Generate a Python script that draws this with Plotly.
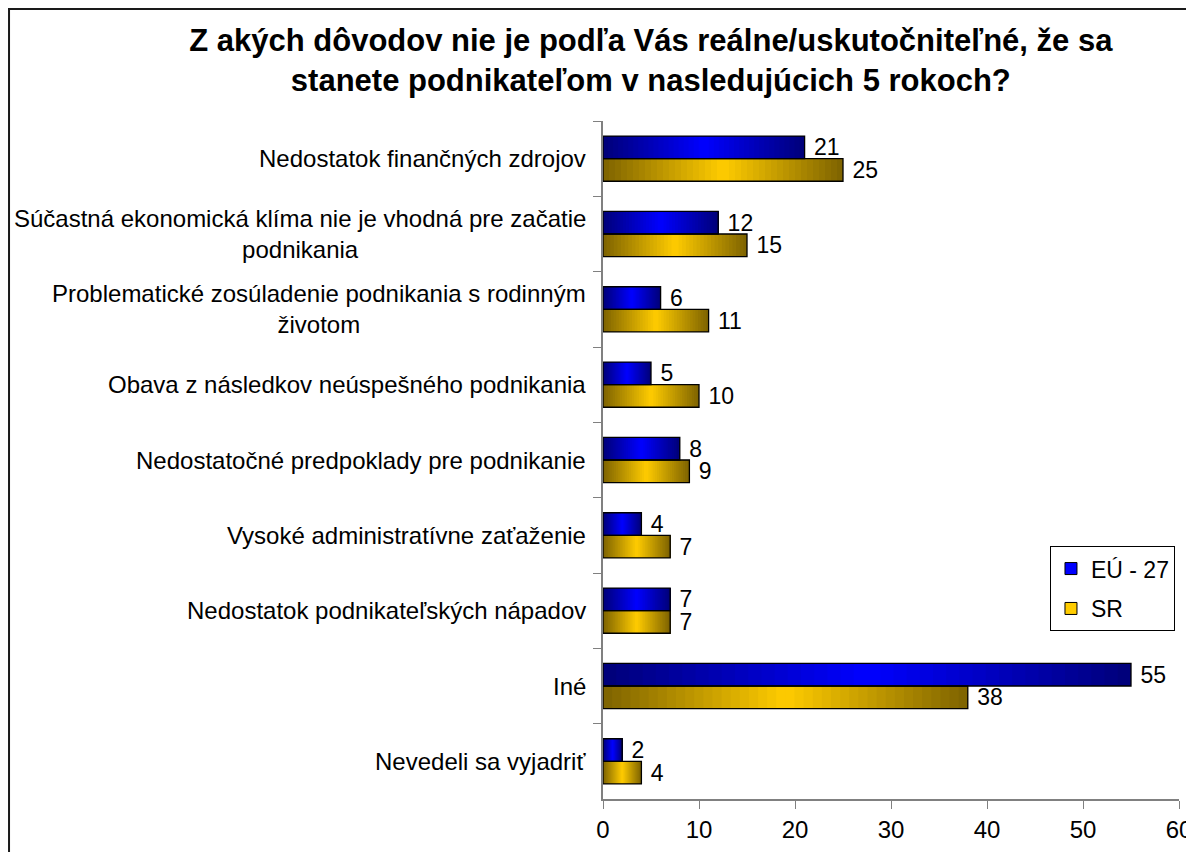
import numpy as np
import plotly.graph_objects as go

# ---------------- data ----------------
categories = [
    "Nedostatok finančných zdrojov",
    "Súčastná ekonomická klíma nie je vhodná pre začatie<br>podnikania",
    "Problematické zosúladenie podnikania s rodinným<br>životom",
    "Obava z následkov neúspešného podnikania",
    "Nedostatočné predpoklady pre podnikanie",
    "Vysoké administratívne zaťaženie",
    "Nedostatok podnikateľských nápadov",
    "Iné",
    "Nevedeli sa vyjadriť",
]
eu27 = [21, 12, 6, 5, 8, 4, 7, 55, 2]
sr = [25, 15, 11, 10, 9, 7, 7, 38, 4]
series_names = ["EÚ - 27", "SR"]
x_ticks = [0, 10, 20, 30, 40, 50, 60]
title_text = ("Z akých dôvodov nie je podľa Vás reálne/uskutočniteľné, že sa<br>"
              "stanete podnikateľom v nasledujúcich 5 rokoch?")

# ---------------- style ----------------
FONT = "Liberation Sans, Arial, sans-serif"
BLUE_EDGE, BLUE_CENTER = (0, 0, 120), (0, 0, 255)
GOLD_EDGE, GOLD_CENTER = (125, 98, 0), (255, 204, 0)
N_SEG = 40
BAR_W = 0.3


def grad_color(edge, center, t):
    w = 1 - abs(2 * t - 1)
    c = [round(e + (m - e) * w) for e, m in zip(edge, center)]
    return f"rgb({c[0]},{c[1]},{c[2]})"


fig = go.Figure()

series = [
    (eu27, series_names[0], BLUE_EDGE, BLUE_CENTER, -BAR_W),
    (sr, series_names[1], GOLD_EDGE, GOLD_CENTER, 0.0),
]

# gradient fill: each slice starts further right and runs to the bar end
for vals, name, edge, center, off in series:
    v = np.array(vals, dtype=float)
    for k in range(N_SEG):
        fig.add_trace(go.Bar(
            y=categories, x=v * (N_SEG - k) / N_SEG, base=v * k / N_SEG,
            orientation="h", offset=off, width=BAR_W,
            marker=dict(color=grad_color(edge, center, (k + 0.5) / N_SEG),
                        line=dict(width=0)),
            showlegend=False, hoverinfo="skip",
        ))

# outlines + value labels
for vals, name, edge, center, off in series:
    v = np.array(vals, dtype=float)
    fig.add_trace(go.Bar(
        y=categories, x=v, orientation="h", offset=off, width=BAR_W,
        marker=dict(color="rgba(0,0,0,0)", line=dict(color="black", width=1.3)),
        texttemplate="\u00a0%{x}", textposition="outside",
        textfont=dict(family=FONT, size=23, color="black"),
        cliponaxis=False, constraintext="none",
        showlegend=False, name=name,
    ))

# legend entries
for vals, name, edge, center, off in series:
    fig.add_trace(go.Bar(
        y=[None], x=[None], orientation="h", name=name, legendgroup=name,
        marker=dict(color=grad_color(edge, center, 0.5),
                    line=dict(color="black", width=1)),
        showlegend=True,
    ))

# category labels (centered multi-line)
annotations = []
for cat in categories:
    annotations.append(dict(
        x=0, xref="paper", y=cat, yref="y", text=cat, showarrow=False,
        xanchor="right", yanchor="middle", align="center", xshift=-15,
        font=dict(family=FONT, size=24, color="black"),
    ))

# outer chart frame
shapes = [dict(
    type="rect", xref="paper", yref="paper",
    x0=-1.0312, x1=1.2, y0=-0.3, y1=1.1652,
    line=dict(color="#1a1a1a", width=2), fillcolor="rgba(0,0,0,0)", layer="below",
)]

fig.update_layout(
    width=1186, height=844,
    margin=dict(l=595, r=15, t=113, b=53, autoexpand=False),
    paper_bgcolor="white", plot_bgcolor="white",
    barmode="overlay",
    font=dict(family=FONT, size=23, color="black"),
    title=dict(text=title_text, x=0.542, xanchor="center",
               yref="container", y=0.949, yanchor="top",
               font=dict(family=FONT, size=31, color="black", weight="bold")),
    xaxis=dict(range=[0, 60], tickvals=x_ticks, showgrid=False, zeroline=False,
               automargin=False,
               showline=True, linecolor="#808080", linewidth=1.5,
               ticks="outside", ticklen=8, tickcolor="#808080",
               tickfont=dict(family=FONT, size=24, color="black")),
    yaxis=dict(autorange="reversed", showticklabels=False, showgrid=False,
               automargin=False,
               zeroline=False, showline=True, linecolor="#808080", linewidth=1.5,
               ticks="outside", ticklen=8, tickcolor="#808080",
               tickson="boundaries"),
    legend=dict(x=0.776, y=0.373, xanchor="left", yanchor="top",
                bordercolor="black", borderwidth=1, bgcolor="white",
                font=dict(family=FONT, size=23, color="black"),
                traceorder="grouped", tracegroupgap=7),
    annotations=annotations,
    shapes=shapes,
)

fig.write_html("out.html")
